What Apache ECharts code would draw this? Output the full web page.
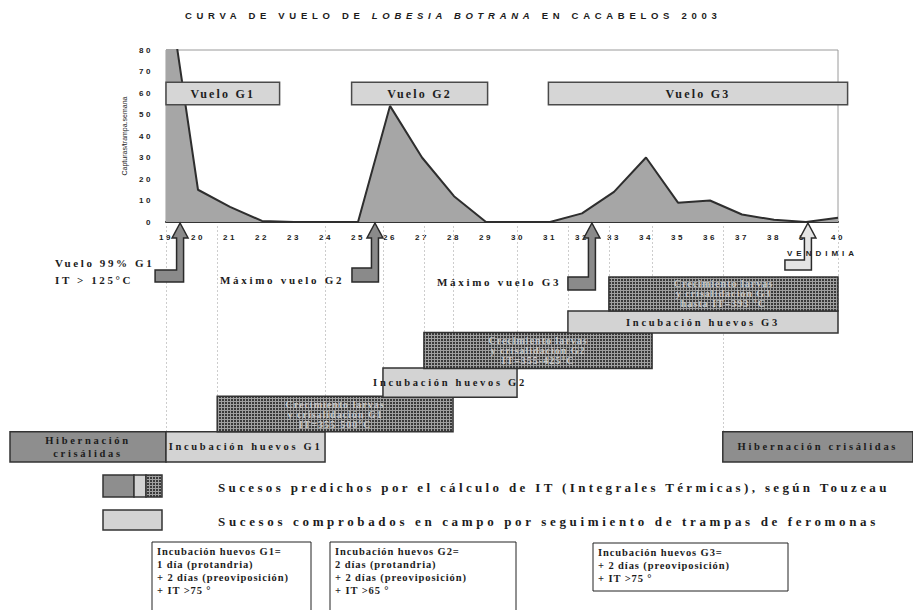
<!DOCTYPE html>
<html>
<head>
<meta charset="utf-8">
<title>Curva de vuelo de Lobesia botrana</title>
<script src="https://cdn.jsdelivr.net/npm/echarts@6/dist/echarts.min.js"></script>
<style>
html, body { margin: 0; padding: 0; background: #fff; }
#main { width: 913px; height: 610px; }
</style>
</head>
<body>
<div id="main"></div>
<script>
// semanas y capturas por trampa
var weeks = [19, 20, 21, 22, 23, 24, 25, 26, 27, 28, 29, 30, 31, 32, 33, 34, 35, 36, 37, 38, 39, 40];
var captures = [116, 15, 7, 0.5, 0, 0, 0, 54, 30, 12, 0, 0, 0, 4, 14, 30, 9, 10, 3.5, 1, 0, 2];

// rotulos de vuelo (semana inicio / fin)
var flightLabels = ['Vuelo G1', 'Vuelo G2', 'Vuelo G3'];
var flightStart = [19, 24.8, 30.95];
var flightEnd = [22.55, 29.05, 40.3];

// fases (semana inicio / fin)
var phaseNames = [
    'Hibernación\ncrisálidas',
    'Incubación huevos G1',
    'Crecimiento larvas\ny crisalidación G1\nIT=355-500°C',
    'Incubación huevos G2',
    'Crecimiento larvas\ny crisalidación G2\nIT=355-425°C',
    'Incubación huevos G3',
    'Crecimiento larvas\ny crisalidación G3\nhasta IT=393 °C',
    'Hibernación crisálidas'
];
var phaseStart = [14.125, 19, 20.6, 25.78, 27.06, 31.56, 32.84, 36.4];
var phaseEnd = [19, 23.97, 27.97, 29.97, 34.19, 40, 40, 42.34];
var phaseKind = ['hib', 'inc', 'crec', 'inc', 'crec', 'inc', 'crec', 'hib'];
var phaseRow = [0, 0, 1, 2, 3, 4, 5, 0];

// flechas bajo el eje (semana)
var arrowWeeks = [19.44, 25.53, 32.31, 39.06];

// textos
var titleParts = ['CURVA DE VUELO DE ', 'LOBESIA BOTRANA', ' EN CACABELOS 2003'];
var legendTexts = [
    'Sucesos predichos por el cálculo de IT (Integrales Térmicas), según Touzeau',
    'Sucesos comprobados en campo por seguimiento de trampas de feromonas'
];
var notes = [
    'Incubación huevos G1=\n1 día (protandria)\n+ 2 días (preoviposición)\n+ IT >75 °',
    'Incubación huevos G2=\n2 días (protandria)\n+ 2 días (preoviposición)\n+ IT >65 °',
    'Incubación huevos G3=\n+ 2 días (preoviposición)\n+ IT >75 °'
];

// ---- estilos / maquetacion ----
var serif = '"Liberation Serif", "DejaVu Serif", serif';
var sans = '"Liberation Sans", Arial, sans-serif';
var rowBottom = [0, 0.98, 2.1, 3.03, 4.18, 4.9];
var rowTop = [0.98, 2.13, 3.05, 4.2, 4.9, 6];
var arrowShape = [
    {bottom: 60, legH: 12, legW: 25, fill: '#8a8a8a'},
    {bottom: 60, legH: 14, legW: 23, fill: '#8a8a8a'},
    {bottom: 68, legH: 13, legW: 24, fill: '#8a8a8a'},
    {bottom: 48, legH: 10, legW: 23, fill: '#e4e4e4'}
];

function dotPattern() {
    var c = document.createElement('canvas');
    c.width = 3; c.height = 3;
    var ctx = c.getContext('2d');
    ctx.fillStyle = '#a0a0a0'; ctx.fillRect(0, 0, 3, 3);
    ctx.fillStyle = '#3a3a3a'; ctx.fillRect(0, 0, 2, 2);
    return {image: c, repeat: 'repeat'};
}
var darkFill = dotPattern();
var kindFill = {hib: '#8e8e8e', inc: '#d3d3d3', crec: darkFill};

// espaciado de letras (se aplica al svg)
var spacing = {};
function addSpacing(text, px) {
    String(text).split('\n').forEach(function (line) { spacing[line] = px; });
}
weeks.forEach(function (w) { addSpacing(w, 2.5); });
[0, 10, 30, 40, 50, 60, 70, 80].forEach(function (v) { addSpacing(v, 2.5); });
titleParts.forEach(function (t) { addSpacing(t, 4.7); });
flightLabels.forEach(function (t) { addSpacing(t, 2.2); });
phaseNames.forEach(function (t, i) { addSpacing(t, phaseKind[i] == 'crec' ? 1 : 2.7); });
addSpacing(legendTexts[0], 3.35);
addSpacing(legendTexts[1], 3.65);
notes.forEach(function (t) { addSpacing(t, 0.9); });
addSpacing('Vuelo 99% G1\nIT > 125°C', 2.6);
addSpacing('Máximo vuelo G2', 2.7);
addSpacing('Máximo vuelo G3', 2.7);
addSpacing('VENDIMIA', 4);

var chart = echarts.init(document.getElementById('main'), null, {renderer: 'svg'});

function txt(x, y, text, font, extra) {
    var st = {text: text, x: x, y: y, font: font, fill: '#1c1c1c',
        align: 'left', textAlign: 'left', verticalAlign: 'middle', textVerticalAlign: 'middle'};
    for (var k in extra) st[k] = extra[k];
    return {type: 'text', z: 20, style: st};
}

var graphics = [];
graphics.push(txt(185, 15, titleParts[0], 'bold 9.5px ' + sans));
graphics.push(txt(360, 15, titleParts[1], 'italic bold 9.5px ' + sans));
graphics.push(txt(520, 15, titleParts[2], 'bold 9.5px ' + sans));
graphics.push(txt(55, 271, 'Vuelo 99% G1\nIT > 125°C', 'bold 11px ' + serif, {lineHeight: 17}));
graphics.push(txt(220, 280, 'Máximo vuelo G2', 'bold 11px ' + serif));
graphics.push(txt(437, 282, 'Máximo vuelo G3', 'bold 11px ' + serif));
graphics.push(txt(787, 253, 'VENDIMIA', 'bold 8px ' + sans));
// leyenda
graphics.push({type: 'rect', z: 15, shape: {x: 103, y: 475, width: 31, height: 22}, style: {fill: kindFill.hib, stroke: '#333', lineWidth: 1.5}});
graphics.push({type: 'rect', z: 15, shape: {x: 134, y: 475, width: 12, height: 22}, style: {fill: kindFill.inc, stroke: '#333', lineWidth: 1.5}});
graphics.push({type: 'rect', z: 15, shape: {x: 146, y: 475, width: 16, height: 22}, style: {fill: darkFill, stroke: '#333', lineWidth: 1.5}});
graphics.push({type: 'rect', z: 15, shape: {x: 103, y: 510, width: 59, height: 20}, style: {fill: kindFill.inc, stroke: '#333', lineWidth: 1.5}});
graphics.push(txt(218, 487, legendTexts[0], 'bold 13px ' + serif));
graphics.push(txt(218, 521, legendTexts[1], 'bold 13px ' + serif));
// notas
var noteBox = [[152, 542, 159, 80], [330, 542, 186, 80], [593, 543, 195, 48]];
notes.forEach(function (n, i) {
    var b = noteBox[i];
    graphics.push({type: 'rect', z: 15, shape: {x: b[0], y: b[1], width: b[2], height: b[3]}, style: {fill: '#fff', stroke: '#222', lineWidth: 1}});
    graphics.push(txt(b[0] + 5, b[1] + 3, n, 'bold 10.5px ' + serif, {lineHeight: 13, verticalAlign: 'top', textVerticalAlign: 'top'}));
});

var option = {
    animation: false,
    backgroundColor: '#fff',
    grid: [
        {left: 166, top: 50, width: 672, height: 172, show: true, borderColor: '#9a9a9a', borderWidth: 1},
        {left: 0, top: 277, width: 913, height: 185}
    ],
    xAxis: [
        {type: 'value', gridIndex: 0, min: 19, max: 40, interval: 1,
            axisLine: {lineStyle: {color: '#333', width: 2}},
            axisTick: {show: false}, splitLine: {show: false},
            axisLabel: {color: '#222', fontFamily: sans, fontWeight: 'bold', fontSize: 8, margin: 11}},
        {type: 'value', gridIndex: 1, min: 19 - 166 / 32, max: 40 + 75 / 32, show: false}
    ],
    yAxis: [
        {type: 'value', gridIndex: 0, min: 0, max: 80, interval: 10,
            axisLine: {show: true, lineStyle: {color: '#666'}},
            axisTick: {show: false}, splitLine: {show: false},
            axisLabel: {color: '#222', fontFamily: sans, fontWeight: 'bold', fontSize: 8, margin: 13},
            name: 'Capturas/trampa.semana', nameLocation: 'middle', nameGap: 38, nameRotate: 90,
            nameTextStyle: {fontSize: 7, fontFamily: sans, color: '#222'}},
        {type: 'value', gridIndex: 1, min: 0, max: 6, show: false}
    ],
    graphic: graphics,
    series: [
        {   // lineas guia verticales
            type: 'custom', xAxisIndex: 1, yAxisIndex: 1, z: 1, silent: true,
            data: phaseNames.map(function (n, i) { return [phaseStart[i], phaseEnd[i]]; }),
            renderItem: function (params, api) {
                var i = params.dataIndex;
                var top = api.coord([phaseStart[i], rowTop[phaseRow[i]]])[1];
                var y0 = params.coordSys.y - 51;
                var children = [];
                [phaseStart[i], phaseEnd[i]].forEach(function (w) {
                    if (w >= 19 && w <= 40) {
                        var x = Math.round(api.coord([w, 0])[0]) + 0.5;
                        children.push({type: 'line', shape: {x1: x, y1: y0, x2: x, y2: top},
                            style: {stroke: '#cdcdcd', lineWidth: 1, lineDash: [2, 2]}});
                    }
                });
                return {type: 'group', children: children};
            }
        },
        {   // curva de vuelo
            type: 'line', xAxisIndex: 0, yAxisIndex: 0, z: 2,
            data: weeks.map(function (w, i) { return [w, captures[i]]; }),
            symbol: 'none', clip: true,
            lineStyle: {color: '#2e2e2e', width: 2},
            areaStyle: {color: '#a6a6a6', opacity: 1}
        },
        {   // rotulos de vuelo
            type: 'custom', xAxisIndex: 0, yAxisIndex: 0, z: 3,
            data: flightLabels.map(function (n, i) { return [flightStart[i], flightEnd[i]]; }),
            renderItem: function (params, api) {
                var p0 = api.coord([api.value(0), 65]);
                var p1 = api.coord([api.value(1), 54.5]);
                return {type: 'group', children: [
                    {type: 'rect', shape: {x: p0[0], y: p0[1], width: p1[0] - p0[0], height: p1[1] - p0[1]},
                        style: {fill: '#d6d6d6', stroke: '#4a4a4a', lineWidth: 1.5}},
                    {type: 'text', style: {text: flightLabels[params.dataIndex], x: (p0[0] + p1[0]) / 2, y: (p0[1] + p1[1]) / 2,
                        align: 'center', verticalAlign: 'middle', font: 'bold 12px ' + serif, fill: '#1e1e1e'}}
                ]};
            }
        },
        {   // flechas
            type: 'custom', xAxisIndex: 0, yAxisIndex: 0, z: 4,
            data: arrowWeeks.map(function (w) { return [w, 0]; }),
            renderItem: function (params, api) {
                var p = api.coord([api.value(0), 0]);
                var tx = p[0], by = p[1];
                var a = arrowShape[params.dataIndex];
                var pts = [[tx, by + 1], [tx + 8, by + 16], [tx + 3.5, by + 16], [tx + 3.5, by + a.bottom],
                    [tx - a.legW, by + a.bottom], [tx - a.legW, by + a.bottom - a.legH],
                    [tx - 3.5, by + a.bottom - a.legH], [tx - 3.5, by + 16], [tx - 8, by + 16]];
                return {type: 'polygon', shape: {points: pts}, style: {fill: a.fill, stroke: '#2a2a2a', lineWidth: 1.5}};
            }
        },
        {   // fases
            type: 'custom', xAxisIndex: 1, yAxisIndex: 1, z: 5,
            data: phaseNames.map(function (n, i) { return [phaseStart[i], phaseEnd[i], phaseRow[i]]; }),
            renderItem: function (params, api) {
                var i = params.dataIndex;
                var r = api.value(2);
                var p0 = api.coord([api.value(0), rowTop[r]]);
                var p1 = api.coord([api.value(1), rowBottom[r]]);
                var kind = phaseKind[i];
                return {type: 'group', children: [
                    {type: 'rect', shape: {x: p0[0], y: p0[1], width: p1[0] - p0[0], height: p1[1] - p0[1]},
                        style: {fill: kindFill[kind], stroke: '#333', lineWidth: 1.5}},
                    {type: 'text', style: {text: phaseNames[i], x: (p0[0] + p1[0]) / 2, y: (p0[1] + p1[1]) / 2,
                        align: 'center', verticalAlign: 'middle',
                        font: (kind == 'crec' ? 'bold 10px ' : 'bold 10.5px ') + serif,
                        lineHeight: kind == 'crec' ? 10 : 13,
                        fill: kind == 'crec' ? '#c6c6c6' : '#1c1c1c'}}
                ]};
            }
        }
    ]
};
chart.setOption(option);

function applySpacing() {
    var texts = document.querySelectorAll('#main svg text');
    var parts = [];
    texts.forEach(function (t) {
        var s = spacing[t.textContent];
        if (s != null) t.style.letterSpacing = s + 'px';
        var k = titleParts.indexOf(t.textContent);
        if (k >= 0) parts[k] = t;
    });
    // encadenar las partes del titulo
    for (var k = 1; k < parts.length; k++) {
        if (parts[k] && parts[k - 1]) {
            var x = parseFloat(parts[k - 1].getAttribute('x')) + parts[k - 1].getComputedTextLength();
            parts[k].setAttribute('x', x);
        }
    }
}
chart.on('finished', applySpacing);
setTimeout(applySpacing, 200);
</script>
</body>
</html>
